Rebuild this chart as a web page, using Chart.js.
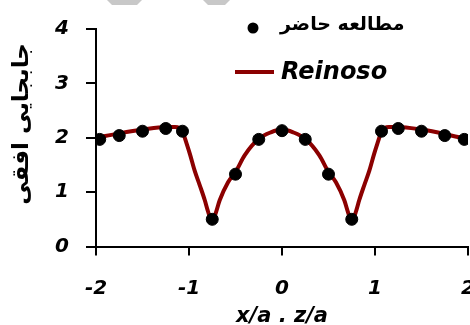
<!DOCTYPE html>
<html>
<head>
<meta charset="utf-8">
<script src="https://cdn.jsdelivr.net/npm/chart.js@4"></script>
<style>
  html, body { margin: 0; padding: 0; background: #fff; }
  #wrap { width: 470px; height: 325px; overflow: hidden; position: relative; }
  #myChart { position: absolute; left: 0; top: 0; }
</style>
</head>
<body>
<div id="wrap"><canvas id="myChart" width="496" height="335"></canvas></div>
<script>
// ---------- data -----------
// 측정점 (present study)
const studyX = [-1.96, -1.75, -1.5, -1.25, -1.07, -0.75, -0.5, -0.25, 0, 0.25, 0.5, 0.75, 1.07, 1.25, 1.5, 1.75, 1.96];
const studyY = [1.97, 2.04, 2.12, 2.17, 2.12, 0.5, 1.33, 1.97, 2.13, 1.97, 1.33, 0.5, 2.12, 2.17, 2.12, 2.04, 1.97];

// Reinoso curve
const reinosoX = [-2, -1.75, -1.5, -1.25, -1.15, -1.07, -1.04, -0.99, -0.94, -0.885, -0.83, -0.8, -0.756, -0.72, -0.67, -0.58, -0.5, -0.4, -0.25, -0.12, 0,
  0.12, 0.25, 0.4, 0.5, 0.58, 0.67, 0.72, 0.756, 0.8, 0.83, 0.885, 0.94, 0.99, 1.04, 1.07, 1.15, 1.25, 1.5, 1.75, 2];
const reinosoY = [2.0, 2.08, 2.15, 2.2, 2.2, 2.13, 1.97, 1.7, 1.4, 1.13, 0.85, 0.67, 0.48, 0.58, 0.85, 1.18, 1.37, 1.68, 1.98, 2.1, 2.15,
  2.1, 1.98, 1.68, 1.37, 1.18, 0.85, 0.58, 0.48, 0.67, 0.85, 1.13, 1.4, 1.7, 1.97, 2.13, 2.2, 2.2, 2.15, 2.07, 1.97];

const xTicks = [-2, -1, 0, 1, 2];
const yTicks = [0, 1, 2, 3, 4];

const seriesNames = ['مطالعه حاضر', 'Reinoso'];
const xTitle = 'x/a . z/a';
const yTitle = 'جابجایی افقی';

const darkRed = '#8b0000';
const tickFont = { family: 'DejaVu Sans', size: 20, weight: 'bold', style: 'italic' };

// ---------- plugins -----------
// 배경 + 상단 회색 워터마크
const backdrop = {
  id: 'backdrop',
  beforeDraw(chart) {
    const ctx = chart.ctx;
    ctx.save();
    ctx.fillStyle = '#fff';
    ctx.fillRect(0, 0, chart.width, chart.height);
    ctx.fillStyle = '#c8c8c8';
    ctx.beginPath();
    ctx.moveTo(107, 0); ctx.lineTo(142, 0); ctx.lineTo(137, 5); ctx.lineTo(112, 5);
    ctx.closePath(); ctx.fill();
    ctx.beginPath();
    ctx.moveTo(203, 0); ctx.lineTo(230, 0); ctx.lineTo(225, 5); ctx.lineTo(208, 5);
    ctx.closePath(); ctx.fill();
    ctx.restore();
  },
};

// 범례와 세로축 제목을 직접 그림
const innerLegend = {
  id: 'innerLegend',
  afterDraw(chart) {
    const ctx = chart.ctx;
    ctx.save();
    ctx.textBaseline = 'middle';
    ctx.textAlign = 'left';
    ctx.fillStyle = '#000';

    ctx.beginPath();
    ctx.arc(253, 28, 5.5, 0, Math.PI * 2);
    ctx.fill();
    ctx.font = 'bold 19px "DejaVu Sans"';
    ctx.fillText(chart.data.datasets[0].label, 280, 25);

    ctx.strokeStyle = darkRed;
    ctx.lineWidth = 4;
    ctx.beginPath();
    ctx.moveTo(235, 72);
    ctx.lineTo(274, 72);
    ctx.stroke();
    ctx.font = 'italic bold 24px "DejaVu Sans"';
    ctx.fillText(chart.data.datasets[1].label, 281, 73);

    // y 축 제목
    ctx.translate(22, 124);
    ctx.rotate(-Math.PI / 2);
    ctx.textAlign = 'center';
    ctx.font = 'bold 23px "DejaVu Sans"';
    ctx.fillText(yTitle, 0, 0);
    ctx.restore();
  },
};

// ---------- chart -----------
const data = {
  datasets: [
    {
      label: seriesNames[0],
      type: 'scatter',
      data: studyX.map((x, i) => ({ x: x, y: studyY[i] })),
      backgroundColor: '#000',
      borderColor: '#000',
      pointRadius: 6,
      order: 0,
    },
    {
      label: seriesNames[1],
      type: 'line',
      data: reinosoX.map((x, i) => ({ x: x, y: reinosoY[i] })),
      borderColor: darkRed,
      borderWidth: 4,
      pointRadius: 0,
      cubicInterpolationMode: 'monotone',
      fill: false,
      order: 1,
    },
  ],
};

const config = {
  type: 'scatter',
  data: data,
  options: {
    responsive: false,
    animation: false,
    layout: { padding: { left: 0, top: 28, right: 28, bottom: 0 } },
    plugins: {
      legend: { display: false },
      title: { display: false },
      tooltip: { enabled: false },
    },
    scales: {
      x: {
        type: 'linear',
        min: -2,
        max: 2,
        afterBuildTicks: (scale) => { scale.ticks = xTicks.map((v) => ({ value: v })); },
        afterFit: (scale) => { scale.height = 88.5; },
        ticks: { color: '#000', font: tickFont, padding: 21 },
        grid: { display: true, drawOnChartArea: false, drawTicks: true, tickLength: 9, color: '#000', lineWidth: 2 },
        border: { display: true, color: '#000', width: 2 },
        title: {
          display: true,
          text: xTitle,
          color: '#000',
          font: { family: 'DejaVu Sans', size: 21, weight: 'bold', style: 'italic' },
          padding: { top: 0, bottom: 6 },
        },
      },
      y: {
        min: 0,
        max: 4,
        afterBuildTicks: (scale) => { scale.ticks = yTicks.map((v) => ({ value: v })); },
        afterFit: (scale) => { scale.width = 96; },
        ticks: { color: '#000', font: tickFont, padding: 17 },
        grid: { display: true, drawOnChartArea: false, drawTicks: true, tickLength: 10, color: '#000', lineWidth: 2 },
        border: { display: true, color: '#000', width: 2 },
        title: { display: false, text: yTitle },
      },
    },
  },
  plugins: [backdrop, innerLegend],
};

const myChart = new Chart(document.getElementById('myChart'), config);
</script>
</body>
</html>
